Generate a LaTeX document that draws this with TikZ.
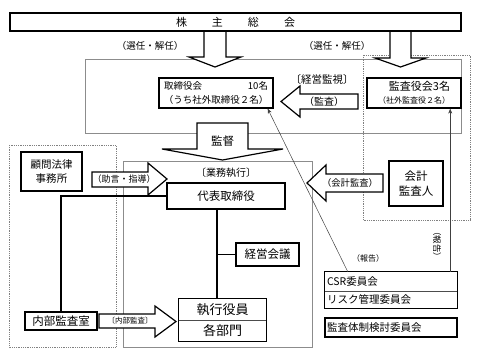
\documentclass[tikz,border=0pt]{standalone}
\usepackage{fontspec}
\setmainfont{Noto Sans CJK JP}
\usetikzlibrary{arrows.meta}
\newcommand\jsz[2]{\fontsize{#1}{#2}\selectfont}
\tikzset{
  box/.style={draw, line width=1.3pt, inner sep=1pt, align=center},
  part/.style={inner xsep=2pt, inner ysep=0pt},
  boxline/.style={line width=1.3pt},
  divider/.style={line width=0.5pt, draw=black!70},
  frame/.style={draw=black!45, line width=0.8pt},
  dotframe/.style={draw=black!50, line width=0.8pt, densely dotted},
  fat/.style={draw, fill=white, line width=1.2pt, line join=miter},
  link/.style={line width=1.5pt},
  report/.style={-{Stealth[length=5pt, width=4pt]}, line width=0.5pt, draw=black!75},
  tag/.style={inner sep=0pt, font=\jsz{9.5}{11}}
}

\begin{document}
\begin{tikzpicture}[x=1pt, y=-1pt]
  \useasboundingbox (0,0) rectangle (478,358);

  \draw[frame] (85,59) rectangle (461,133);
  \draw[dotframe] (363,55) rectangle (470,220);
  \draw[dotframe] (9,145) rectangle (116,347);
  \draw[frame] (123,161) rectangle (312,347);

  \draw[fat] (204,31) -- (204,57) -- (189,57) -- (215,67) -- (241,57)
    -- (226,57) -- (226,31) -- cycle;
  \draw[fat] (390,31) -- (390,58) -- (375,58) -- (400.5,67) -- (426,58)
    -- (411,58) -- (411,31) -- cycle;
  \draw[fat] (358,94) -- (300,94) -- (300,86) -- (281,101.5) -- (300,117)
    -- (300,109) -- (358,109) -- cycle;
  \draw[fat] (197,123) -- (197,149) -- (162,149) -- (222.5,160) -- (283,149)
    -- (248,149) -- (248,123) -- cycle;
  \draw[fat] (92,172) -- (148,172) -- (148,163) -- (167,179) -- (148,195)
    -- (148,187) -- (92,187) -- cycle;
  \draw[fat] (99,314) -- (155,314) -- (155,306) -- (176,321.5) -- (155,337)
    -- (155,328) -- (99,328) -- cycle;
  \draw[fat] (383,174) -- (326,174) -- (326,165) -- (307,183) -- (326,201)
    -- (326,192) -- (383,192) -- cycle;

  \node[box, minimum width=451pt, minimum height=18pt, font=\jsz{11}{13}]
    (soukai) at (235.5,22) {株\hspace{25pt}主\hspace{25pt}総\hspace{25pt}会};
  \node[box, minimum width=114pt, minimum height=30pt, font=\jsz{9.5}{14}]
    (torishimari) at (216,93)
    {\makebox[104pt]{取締役会\hfill10名}\\（うち社外取締役２名）};
  \node[box, align=right, minimum width=94pt, minimum height=30pt,
    font=\jsz{11}{13}] (kansayaku) at (414,93)
    {監査役会3名\\{\jsz{8}{10}（社外監査役２名）}};
  \node[box, minimum width=61pt, minimum height=39pt, font=\jsz{10.5}{14}]
    (komon) at (51.5,171.5) {顧問法律\\事務所};
  \node[box, minimum width=118pt, minimum height=26pt, font=\jsz{11.5}{13}]
    (daihyo) at (226,196) {代表取締役};
  \node[box, minimum width=63pt, minimum height=23pt, font=\jsz{11.5}{13}]
    (keiei) at (267.5,254.5) {経営会議};
  \node[box, minimum width=54pt, minimum height=45pt, font=\jsz{11.5}{15}]
    (kaikei) at (416,183.5) {会計\\監査人};
  \node[box, minimum width=72pt, minimum height=18pt, font=\jsz{11.5}{13}]
    (naibu) at (61,321) {内部監査室};

  \node[part, minimum width=87pt, minimum height=21pt, font=\jsz{13}{15}]
    (shikko) at (222.5,309.5) {執行役員};
  \node[part, minimum width=87pt, minimum height=21pt, font=\jsz{13}{15}]
    (bumon) at (222.5,330.5) {各部門};
  \draw[boxline] (shikko.north west) rectangle (bumon.south east);
  \draw[divider] (shikko.south west) -- (shikko.south east);

  \node[part, text width=128pt, minimum height=19pt, align=left,
    font=\jsz{10.5}{12}] (csr) at (391,281.5) {CSR委員会};
  \node[part, text width=128pt, minimum height=17pt, align=left,
    font=\jsz{10.5}{12}] (risk) at (391,299.5) {リスク管理委員会};
  \draw[boxline] (csr.north west) rectangle (risk.south east);
  \draw[divider] (csr.south west) -- (csr.south east);
  \node[box, part, text width=128pt, minimum height=19pt, align=left,
    font=\jsz{10.5}{12}] (taisei) at (391,327.5) {監査体制検討委員会};

  \node[tag] (senninL) at (150,46) {（選任・解任）};
  \node[tag] (senninR) at (337,46) {（選任・解任）};
  \node[tag, font=\jsz{10.5}{12}] (keieikanshi) at (322,80) {〔経営監視〕};
  \node[tag, font=\jsz{10}{12}] (kansaTag) at (324,102) {（監査）};
  \node[tag, font=\jsz{11.5}{13}] (kantokuTag) at (222.5,141) {監督};
  \node[tag, font=\jsz{10}{12}] (gyomuTag) at (226,173) {〔業務執行〕};
  \node[tag, font=\jsz{9}{11}] (jogenTag) at (124,179.5) {（助言・指導）};
  \node[tag, font=\jsz{7.5}{9}] (naibuTag) at (130,321) {〔内部監査〕};
  \node[tag, font=\jsz{9.3}{11}] (kaikeiTag) at (350,183) {（会計監査）};
  \node[tag, font=\jsz{8}{10}] (hokokuTag) at (368,258) {（報告）};
  \node[tag, font=\jsz{8.5}{10}, rotate=-90] (hokokuV) at (437,244) {（報告）};

  \coordinate (trunk) at (217,0);
  \draw[link] (daihyo.west) -| (naibu.north);
  \draw[link] (trunk |- daihyo.south) -- (trunk |- shikko.north);
  \draw[link] (trunk |- keiei.west) -- (keiei.west);

  \draw[report] ([xshift=23pt]csr.north west) -- ([xshift=-6pt]torishimari.south east);
  \draw[report] ([xshift=-7pt]csr.north east) -- ([xshift=-7pt]csr.north east |- kansayaku.south);
\end{tikzpicture}
\end{document}
